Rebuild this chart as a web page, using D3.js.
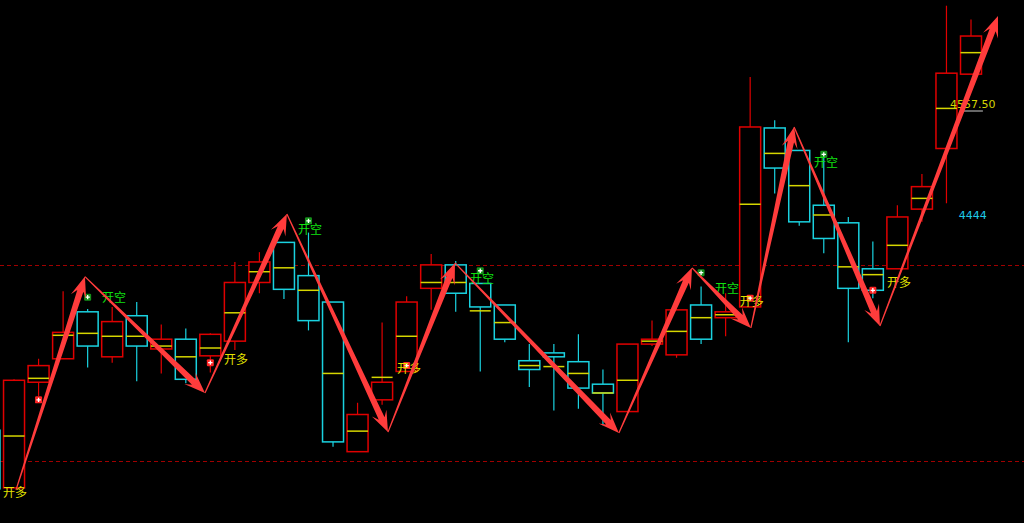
<!DOCTYPE html>
<html>
<head>
<meta charset="utf-8">
<script src="https://cdn.jsdelivr.net/npm/d3@7"></script>
<style>
html,body{margin:0;padding:0;background:#000;overflow:hidden;}
svg{display:block;}
</style>
</head>
<body>
<svg id="chart" width="1024" height="523"></svg>
<script>
// ---- data ----
const categories = d3.range(41);
const opens  = [4224,4165,4273,4297,4345,4299,4341,4307,4317,4300,4315,4375,4416,4382,4355,4202,4255,4284,4369,4393,4374,4352,4295,4303,4294,4271,4243,4312,4301,4352,4339,4350,4533,4510,4454,4436,4389,4389,4450,4512,4588];
const highs  = [4224,4276,4297,4366,4348,4350,4355,4332,4328,4323,4396,4406,4416,4426,4355,4252,4334,4361,4404,4397,4374,4352,4312,4312,4322,4286,4312,4336,4347,4371,4364,4585,4541,4510,4503,4442,4417,4454,4486,4658,4644];
const lows   = [4164,4165,4259,4297,4288,4293,4274,4282,4272,4283,4306,4364,4358,4326,4207,4202,4250,4284,4347,4345,4284,4314,4268,4244,4246,4229,4243,4310,4298,4312,4320,4350,4466,4433,4405,4314,4359,4389,4437,4456,4588];
const closes = [4164,4275,4290,4324,4310,4335,4310,4317,4276,4322,4375,4396,4368,4336,4212,4240,4273,4355,4393,4364,4350,4317,4286,4299,4267,4262,4312,4317,4347,4317,4345,4534,4492,4437,4420,4369,4367,4442,4473,4589,4627];
const mids   = [4187,4218,4277,4321,4323,4320,4320,4310,4299,4308,4344,4386,4390,4367,4282,4223,4278,4320,4375,4375,4346,4334,4290,4289,4282,4262,4275,4315,4325,4339,4342,4455,4507,4474,4444,4391,4383,4413,4461,4553,4610];

const levelLines = [4393, 4192];

// zigzag arrow pivots (fractional candle index, price)
const pivotIdx   = [1.08, 3.89, 8.78, 12.12, 16.24, 18.97, 25.65, 28.63, 31.03, 32.79, 36.29, 41.10];
const pivotPrice = [4163, 4381, 4262, 4445, 4222, 4395, 4221, 4390, 4328.5, 4534, 4330.5, 4647.5];

// signal markers
const longSignalIdx = [2, 9, 17, 31, 36];
const longSignalPrice = [4255, 4293, 4290, 4359, 4367];
const shortSignalIdx = [4, 13, 20, 29, 34];
const shortSignalPrice = [4360, 4438, 4387, 4385, 4506];

// text labels
const longLabelIdx = [0.55, 9.56, 16.61, 30.58, 36.58];
const longLabelPrice = [4161, 4297, 4288, 4357, 4376.5];
const shortLabelIdx = [4.58, 12.57, 19.58, 29.57, 33.6];
const shortLabelPrice = [4361, 4430.7, 4379.6, 4369.4, 4498.2];
const longText = "开多";
const shortText = "开空";

const priceTags = [4557.50, 4444];
const priceTagText = ["4557.50", "4444"];
const priceTagIdx = [39.14, 39.5];

// ---- scales ----
const svg = d3.select("#chart");
const x = d3.scaleLinear().domain([0, 40]).range([-10.5, 971]);
const y = d3.scaleLinear().domain([4444, 4557.5]).range([215, 104]);

const RED = "#e00000", CYAN = "#1ad2e0", MID = "#d6d600";
const candles = categories.map(i => ({i, o: opens[i], h: highs[i], l: lows[i], c: closes[i], m: mids[i]}));
const col = d => d.c >= d.o ? RED : CYAN;
const hw = 10.5;

// level lines
svg.append("g").selectAll("line").data(levelLines).join("line")
  .attr("x1", 0).attr("x2", 1024)
  .attr("y1", d => Math.round(y(d)) + 0.5).attr("y2", d => Math.round(y(d)) + 0.5)
  .attr("stroke", "#a00000").attr("stroke-width", 1).attr("stroke-dasharray", "4,3");

const gC = svg.append("g");
// wicks
gC.selectAll("line.hi").data(candles).join("line").attr("class", "hi")
  .attr("x1", d => x(d.i)).attr("x2", d => x(d.i))
  .attr("y1", d => y(d.h)).attr("y2", d => y(Math.max(d.o, d.c)))
  .attr("stroke", col).attr("stroke-width", 1.2);
gC.selectAll("line.lo").data(candles).join("line").attr("class", "lo")
  .attr("x1", d => x(d.i)).attr("x2", d => x(d.i))
  .attr("y1", d => y(Math.min(d.o, d.c))).attr("y2", d => y(d.l))
  .attr("stroke", col).attr("stroke-width", 1.2);
// bodies
gC.selectAll("rect").data(candles).join("rect")
  .attr("x", d => x(d.i) - hw).attr("width", hw * 2)
  .attr("y", d => y(Math.max(d.o, d.c)))
  .attr("height", d => Math.max(1, y(Math.min(d.o, d.c)) - y(Math.max(d.o, d.c))))
  .attr("fill", "#000").attr("stroke", col).attr("stroke-width", 1.5);
// midlines
gC.selectAll("line.mid").data(candles).join("line").attr("class", "mid")
  .attr("x1", d => x(d.i) - hw).attr("x2", d => x(d.i) + hw)
  .attr("y1", d => y(d.m)).attr("y2", d => y(d.m))
  .attr("stroke", MID).attr("stroke-width", 1.5);

// markers
function drawMarkers(idx, price, fill) {
  const g = svg.append("g");
  const pts = idx.map((v, j) => [x(v), y(price[j])]);
  g.selectAll("rect").data(pts).join("rect")
    .attr("x", d => d[0] - 3.5).attr("y", d => d[1] - 3.5)
    .attr("width", 7).attr("height", 7).attr("rx", 1.2)
    .attr("fill", fill);
  g.selectAll("path").data(pts).join("path")
    .attr("d", d => `M${d[0]-2.2},${d[1]}H${d[0]+2.2}M${d[0]},${d[1]-2.2}V${d[1]+2.2}`)
    .attr("stroke", "#fff").attr("stroke-width", 1.3);
}
drawMarkers(longSignalIdx, longSignalPrice, "#ff2424");
drawMarkers(shortSignalIdx, shortSignalPrice, "#14901a");

// text labels
const fontCJK = "'Noto Sans CJK SC', 'Noto Sans', sans-serif";
svg.append("g").selectAll("text").data(longLabelIdx).join("text")
  .attr("x", (d, j) => x(d)).attr("y", (d, j) => y(longLabelPrice[j]))
  .attr("dominant-baseline", "central")
  .attr("font-family", fontCJK).attr("font-size", 12).attr("fill", "#e2e200")
  .text(longText);
svg.append("g").selectAll("text").data(shortLabelIdx).join("text")
  .attr("x", (d, j) => x(d)).attr("y", (d, j) => y(shortLabelPrice[j]))
  .attr("dominant-baseline", "central")
  .attr("font-family", fontCJK).attr("font-size", 12).attr("fill", "#10e010")
  .text(shortText);

// price tags
svg.append("line")
  .attr("x1", x(priceTagIdx[0]) + 12).attr("x2", x(priceTagIdx[0]) + 33)
  .attr("y1", y(priceTags[0]) + 7).attr("y2", y(priceTags[0]) + 7)
  .attr("stroke", "#8a8a8a").attr("stroke-width", 1.5);
svg.append("g").selectAll("text").data(priceTags).join("text")
  .attr("x", (d, j) => x(priceTagIdx[j])).attr("y", d => y(d))
  .attr("dominant-baseline", "central")
  .attr("font-family", "'DejaVu Sans', sans-serif").attr("font-size", 11)
  .attr("fill", (d, j) => j === 0 ? "#d4d400" : "#1ec8e6")
  .text((d, j) => priceTagText[j]);

// arrows
const pivots = pivotIdx.map((v, j) => [x(v), y(pivotPrice[j])]);
const segs = d3.pairs(pivots);
function arrowPath(s, t) {
  const dx = t[0] - s[0], dy = t[1] - s[1];
  const L = Math.hypot(dx, dy);
  const ux = dx / L, uy = dy / L, nx = -uy, ny = ux;
  const P = (a, b) => [t[0] + ux * a + nx * b, t[1] + uy * a + ny * b];
  const pts = [
    [s[0] + nx * 0.6, s[1] + ny * 0.6],
    P(-15, 3.2), P(-21, 8), [t[0], t[1]], P(-21, -8), P(-15, -3.2),
    [s[0] - nx * 0.6, s[1] - ny * 0.6]
  ];
  return "M" + pts.map(p => p.join(",")).join("L") + "Z";
}
svg.append("g").selectAll("path").data(segs).join("path")
  .attr("d", d => arrowPath(d[0], d[1]))
  .attr("fill", "#ff3c3c");
</script>
</body>
</html>
